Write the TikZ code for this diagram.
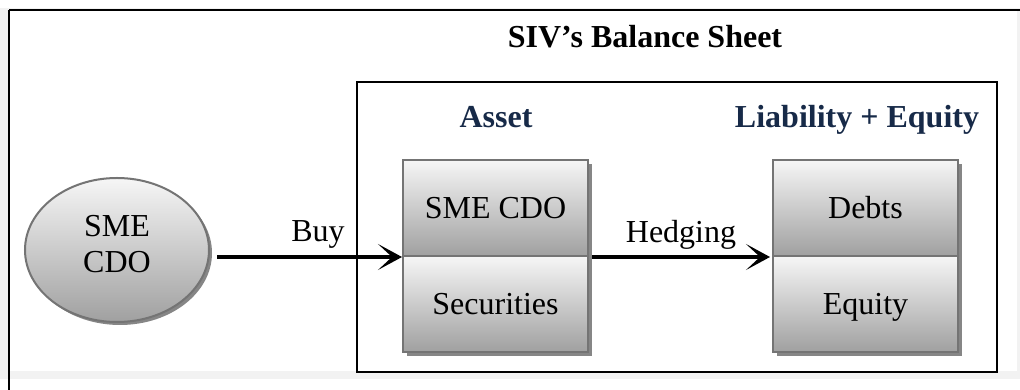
\documentclass[tikz,border=0pt]{standalone}
\usepackage{fontspec}
\setmainfont{Liberation Serif}
\usetikzlibrary{shapes.geometric,shadows,arrows.meta,calc}
\definecolor{navy}{HTML}{172A48}
\definecolor{paper}{HTML}{F2F2F2}
\definecolor{rim}{HTML}{747474}
\definecolor{shade}{HTML}{868686}
\definecolor{lighttop}{HTML}{F6F6F6}
\definecolor{darkbottom}{HTML}{A0A0A0}

\tikzset{
  txt/.style={font=\fontsize{32}{36}\selectfont, inner sep=0pt},
  head/.style={txt, font=\fontsize{32}{36}\selectfont\bfseries},
  cell/.style={draw=rim, line width=2pt, top color=lighttop, bottom color=darkbottom,
    minimum width=185pt, minimum height=96pt, inner sep=0pt,
    text height=21pt, text depth=0pt, font=\fontsize{32}{36}\selectfont,
    drop shadow={shadow xshift=4pt, shadow yshift=-4pt, fill=shade, opacity=1}},
  blob/.style={ellipse, draw=rim, line width=2pt, top color=lighttop, bottom color=darkbottom,
    minimum width=184pt, minimum height=144pt, inner sep=0pt,
    drop shadow={shadow xshift=3pt, shadow yshift=-3pt, fill=shade, opacity=1}},
  frame/.style={draw=black, line width=2pt, minimum width=640pt, minimum height=290pt, inner sep=0pt},
  flow/.style={line width=4.5pt, -{Stealth[length=24pt, width=26pt, inset=14pt]}},
}

\begin{document}
\begin{tikzpicture}[x=1pt, y=1pt]
  \useasboundingbox (0,0) rectangle (1020,390);
  % page background and outer frame
  \fill[white] (0,0) rectangle (1020,390);
  \fill[paper] (0,11) rectangle (1020,382);
  \fill[white] (10,19) rectangle (1017,379);
  \draw[line width=2pt] (9,380) -- (1020,380);
  \draw[line width=2pt] (9,380) -- (9,0);

  % title
  \node[head, anchor=base] (title) at (645,342) {SIV’s Balance Sheet};

  % balance sheet frame
  \node[frame] (sheet) at (677,163) {};
  \node[head, anchor=base, text=navy] (asset) at (496,262) {Asset};
  \node[head, anchor=base, text=navy] (liab) at (857,262) {Liability + Equity};

  % asset column
  \node[cell] (cdo) at (495.5,182) {SME CDO};
  \node[cell] (sec) at (495.5,86) {Securities};

  % liability column
  \node[cell] (debt) at (865.5,182) {Debts};
  \node[cell] (eq) at (865.5,86) {Equity};

  % source
  \node[blob] (src) at (117,140) {};
  \node[txt, align=center] (srclabel) at (117,145.6) {SME\\CDO};

  % flows
  \draw[flow] ($(src.east |- cdo.south west)+(7pt,0)$) -- (cdo.south west);
  \node[txt, anchor=base] (buy) at (318,148) {Buy};
  \draw[flow] ($(cdo.south east)+(3pt,0)$) -- ($(debt.south west)+(-2pt,0)$);
  \node[txt, anchor=base] (hedge) at (681,147) {Hedging};
\end{tikzpicture}
\end{document}
